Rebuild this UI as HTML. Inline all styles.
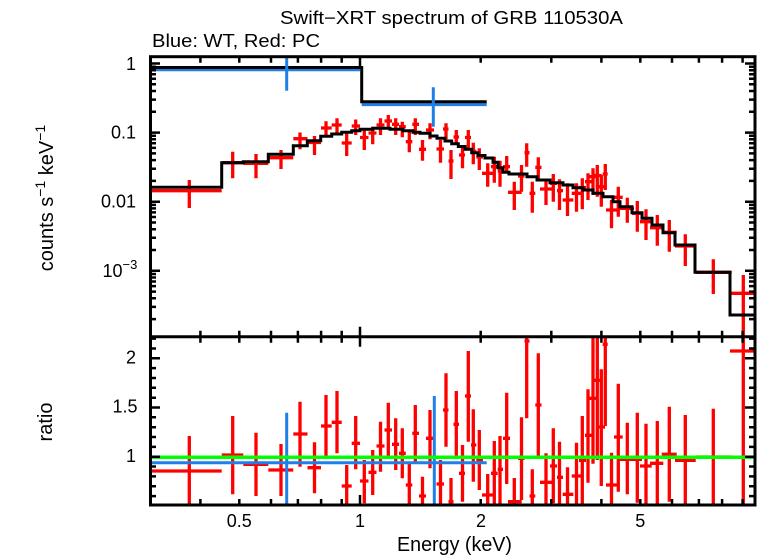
<!DOCTYPE html>
<html><head><meta charset="utf-8"><style>
html,body{margin:0;padding:0;background:#fff;}
svg{display:block;font-family:"Liberation Sans",Arial,sans-serif;}
</style></head><body>
<svg width="758" height="556" viewBox="0 0 758 556" xmlns="http://www.w3.org/2000/svg">
<rect width="758" height="556" fill="#fff"/>
<defs>
<clipPath id="ct"><rect x="150" y="56.7" width="605" height="280"/></clipPath>
<clipPath id="cb"><rect x="150" y="336.7" width="605" height="168.3"/></clipPath>
</defs>
<text x="280" y="24" font-size="18" textLength="343" lengthAdjust="spacingAndGlyphs">Swift−XRT spectrum of GRB 110530A</text>
<text x="152" y="47" font-size="18" textLength="168" lengthAdjust="spacingAndGlyphs">Blue: WT, Red: PC</text>
<g clip-path="url(#ct)" fill="none" stroke-width="3">
<path stroke="#ff0000" stroke-width="3.3" d="M150 190.7H221.7M189.3 180V208 M221.7 162.7H243.3M232.7 151.7V178.3 M243.3 163.3H268.3M256 154V178.3 M268.3 157.7H293.3M281 150V169 M293.3 138.7H307.5M300 132.5V149.3 M307.5 142.5H321M314.5 136V155 M321 128H331.7M326 121.3V135 M331.7 125H341.7M337 118.3V133 M341.7 143H351.7M346.7 131.7V156 M351.7 126H360M355.7 119.5V135 M360 137.5H368.5M364.3 128.5V150 M368.5 133H376.5M372.7 126.7V144.3 M376.5 125H384.5M380.5 118.3V135 M384.5 121H392M388.3 115V127.3 M392 124.3H399M395.7 118.3V135 M399 126.7H405.8M402.3 121.7V137.3 M405.8 141.7H412.3M409.3 131.7V152.3 M412.3 124.3H419M415.3 118.3V135 M419 149.3H426M422.5 140V160.7 M426 130H434M430 123.3V139.3 M436.5 149H444M440.5 140V162.7 M443 129H448.5M446 123.3V139.3 M448.5 161H453.5M451 150V179 M453.5 137H459M456.3 130V145 M459 155H465M462.5 145V168.3 M465 137.5H471M468.3 130V150 M471 151.3H476.3M473.3 142.7V164.3 M476.3 157H483M479.3 148.3V170 M482 173.3H493M487.7 163.3V186.7 M491 166.7H497.7M494.3 156.7V182.7 M497.7 171H503M500 160.7V186.7 M503 166.7H510M506.7 156V173.3 M508 192.3H521.7M514.3 181.7V210 M518 176H524.5M521.5 165V191.7 M524.5 152.7H529.5M526.7 143.3V166.7 M529.5 193.3H535.3M532.3 181.7V212.7 M535.3 167.3H541.5M538.3 157.3V179.3 M540 189H551.7M546 179.3V205 M550 183.3H557M553.3 174V201.7 M557 190.7H563M559.5 179.3V210 M562.7 200H573.3M567.5 183.3V216 M571.7 193.3H581.7M576.5 183.3V211.7 M579 187.5H586M582.3 178.3V209.3 M585 181.7H591.5M588 173.3V200 M588 176.7H596.7M593 168.3V195 M593.3 175.5H601.7M597.3 165V196.7 M597.3 186.7H605M601.3 175V206.7 M602.7 174H607.7M605.3 164V190 M606 210H617.3M611.5 200V228.3 M614 197.3H622.7M618.3 186.7V216.7 M620 208.3H634M627.3 197.7V222.7 M632 213.3H642M637.3 201V231.7 M640 221.7H651.7M646 209.3V240 M650 227.7H663.3M657.3 215V245.7 M661.7 232.3H676.7M669.3 220V251.7 M675 246H695.7M685.3 234.3V266 M695.7 272.3H731.7M713.3 259.3V294 M730 293.3H757M743.3 275V340"/>
<path stroke="#1e80e6" d="M150 69.8H360M361.7 104.6H486.7"/>
<path stroke="#000" d="M150 67.5H361.7V101.7H486.7"/>
<path stroke="#000" d="M150 187.3H221.7V162.7H243.3V161.7H268.3V154.3H293.3V145.7H307.3V140.7H320.7V136.3H331.7V134H341.7V132.3H351.7V130.7H360V129.3H373V128.3H390V129.3H403V130.7H413V132.3H420V133.3H430V136H437V138.3H445V141H451.7V143.8H458.3V146.5H465V149.3H471.7V152.7H478V155.5H485V158H493V162.3H498V167.7H503V172.3H509V174H527V176.7H537V180H550V182.7H563V185H573V187.7H583V190H593V193.3H603V196.7H613V201.7H620V206.7H632V212.7H642V218.3H652V225H663V232.7H675V245H695V272.3H730V315H757"/>
<path stroke="#1e80e6" d="M286.7 56V90.7M433.3 87.3V126.7"/>
</g>
<g clip-path="url(#cb)" fill="none" stroke-width="3">
<path stroke="#ff0000" stroke-width="3.3" d="M150 471H221.7M189.3 436V505 M221.7 455H243.3M232.7 416V494.3 M243.3 464.3H268.3M256 432.7V496 M268.3 470H293.3M281 444V496 M293.3 434H307.5M300 401.7V466.7 M307.5 467.7H321M314.5 442.3V493.3 M321 426H331.7M326 395V456 M331.7 422.3H341.7M337 391V453.3 M341.7 486H351.7M346.7 465V505 M351.7 443.3H360M355.7 416V469.3 M360 481H368.5M364.3 460V503.3 M368.5 472.3H376.5M372.7 450V495 M376.5 446H384.5M380.5 421.7V471.7 M384.5 430H392M388.3 402.7V456 M392 444.3H399M395.7 418.3V470 M399 453.3H405.8M402.3 428.3V478.3 M405.8 485H412.3M409.3 463.3V505 M412.3 433.3H419M415.3 405V461.7 M419 496H426M422.5 476.7V505 M426 438.3H434M430 410V468.3 M436.5 484H444M440.5 460V505 M443 410H448.5M446 373.3V446.7 M448.5 501.7H453.5M451 478V505 M453.5 424.3H459M456.3 391V456.7 M459 473.3H465M462.5 445V501.7 M465 396H471M468.3 351V441.7 M471 445H476.3M473.3 409.3V481.7 M476.3 460H483M479.3 430V490 M482 495H493M487.7 474V505 M491 473.3H497.7M494.3 441V505 M497.7 469.3H503M500 436V505 M503 438.3H510M506.7 392.7V484 M508 501.7H521.7M514.3 478V505 M518 458.3H524.5M521.5 417.3V500 M524.5 341H529.5M526.7 336V418.3 M529.5 496H535.3M532.3 469.3V505 M535.3 405H541.5M538.3 353.3V456.7 M540 482.3H551.7M546 453.3V505 M550 466H557M553.3 428.3V503.3 M557 477.3H563M559.5 441.7V505 M562.7 494.3H573.3M567.5 467.3V505 M571.7 476H581.7M576.5 442.7V505 M579 460.3H586M582.3 416V504 M585 435.3H591.5M588 389.3V482.7 M588 398.3H596.7M593 336V463.7 M593.3 380.3H601.7M597.3 336V460 M597.3 427H605M601.3 369.3V486 M602.7 344.3H607.7M605.3 336V426 M606 485H617.3M611.5 452.7V506 M614 437H622.7M618.3 383.7V491.7 M620 459.3H634M627.3 422.7V494.3 M632 459.3H642M637.3 412.7V502.7 M640 466H651.7M646 423.7V506 M650 463.3H663.3M657.3 421V506 M661.7 454.3H676.7M669.3 406.7V501.7 M675 460.3H695.7M685.3 415V506 M695.7 457H731.7M713.3 408.7V506 M730 351H757M743.3 336V506"/>
<path stroke="#1e80e6" d="M150 462.7H486.7M286.7 412.7V506M434.3 396V506"/>
<path stroke="#00ff00" stroke-width="3.5" d="M150 457.3H755"/>
</g>
<g stroke="#000" stroke-width="2.5" fill="none">
<path d="M200.4 56.7v6M239.3 56.7v6M271 56.7v6M297.9 56.7v6M321.1 56.7v6M341.7 56.7v6M480.7 56.7v6M551.3 56.7v6M601.4 56.7v6M640.3 56.7v6M672 56.7v6M698.9 56.7v6M722.1 56.7v6M742.6 56.7v6"/>
<path d="M200.4 330.7v12M239.3 330.7v12M271 330.7v12M297.9 330.7v12M321.1 330.7v12M341.7 330.7v12M480.7 330.7v12M551.3 330.7v12M601.4 330.7v12M640.3 330.7v12M672 330.7v12M698.9 330.7v12M722.1 330.7v12M742.6 330.7v12"/>
<path d="M200.4 505v-6M239.3 505v-6M271 505v-6M297.9 505v-6M321.1 505v-6M341.7 505v-6M480.7 505v-6M551.3 505v-6M601.4 505v-6M640.3 505v-6M672 505v-6M698.9 505v-6M722.1 505v-6M742.6 505v-6"/>
<path d="M360 56.7v10M360 326.7v20M360 505v-10"/>
<path d="M150 63.5h10M150 132.6h10M150 201.7h10M150 270.8h10"/>
<path d="M150 111.8h6M150 99.6h6M150 91h6M150 84.3h6M150 78.8h6M150 74.2h6M150 70.2h6M150 66.7h6 M150 180.9h6M150 168.7h6M150 160.1h6M150 153.4h6M150 147.9h6M150 143.3h6M150 139.3h6M150 135.8h6 M150 250h6M150 237.8h6M150 229.2h6M150 222.5h6M150 217h6M150 212.4h6M150 208.4h6M150 204.9h6 M150 319.1h6M150 306.9h6M150 298.3h6M150 291.6h6M150 286.1h6M150 281.5h6M150 277.5h6M150 274h6"/>
<path d="M755 63.5h-10M755 132.6h-10M755 201.7h-10M755 270.8h-10"/>
<path d="M755 111.8h-6M755 99.6h-6M755 91h-6M755 84.3h-6M755 78.8h-6M755 74.2h-6M755 70.2h-6M755 66.7h-6 M755 180.9h-6M755 168.7h-6M755 160.1h-6M755 153.4h-6M755 147.9h-6M755 143.3h-6M755 139.3h-6M755 135.8h-6 M755 250h-6M755 237.8h-6M755 229.2h-6M755 222.5h-6M755 217h-6M755 212.4h-6M755 208.4h-6M755 204.9h-6 M755 319.1h-6M755 306.9h-6M755 298.3h-6M755 291.6h-6M755 286.1h-6M755 281.5h-6M755 277.5h-6M755 274h-6"/>
<path d="M150 358.3h10M150 407.5h10M150 456.7h10M755 358.3h-10M755 407.5h-10M755 456.7h-10"/>
<path d="M150 496.1h6M150 486.2h6M150 476.4h6M150 466.5h6M150 446.9h6M150 437h6M150 427.2h6M150 417.3h6M150 397.7h6M150 387.8h6M150 378h6M150 368.1h6M150 348.5h6M150 338.6h6 M755 496.1h-6M755 486.2h-6M755 476.4h-6M755 466.5h-6M755 446.9h-6M755 437h-6M755 427.2h-6M755 417.3h-6M755 397.7h-6M755 387.8h-6M755 378h-6M755 368.1h-6M755 348.5h-6M755 338.6h-6"/>
</g>
<g stroke="#000" stroke-width="3" fill="none">
<rect x="150.5" y="56.7" width="604.5" height="448.3"/>
<path d="M150 336.7H755"/>
</g>
<g font-size="18" fill="#000">
<text x="136" y="70" text-anchor="end">1</text>
<text x="136" y="138.5" text-anchor="end">0.1</text>
<text x="136" y="207.5" text-anchor="end">0.01</text>
<text x="122.5" y="277" text-anchor="end">10</text>
<text x="122.5" y="269" font-size="13">−3</text>
<text x="136" y="363.5" text-anchor="end">2</text>
<text x="137.5" y="412.7" text-anchor="end">1.5</text>
<text x="136" y="462" text-anchor="end">1</text>
<text x="239.3" y="527" text-anchor="middle">0.5</text>
<text x="360" y="527" text-anchor="middle">1</text>
<text x="481" y="527" text-anchor="middle">2</text>
<text x="640.3" y="527" text-anchor="middle">5</text>
</g>
<text x="397" y="551" font-size="20" textLength="115" lengthAdjust="spacingAndGlyphs">Energy (keV)</text>
<text transform="translate(53,198) rotate(-90)" text-anchor="middle" font-size="20">counts s<tspan font-size="14" dy="-8">−1</tspan><tspan dy="8"> keV</tspan><tspan font-size="14" dy="-8">−1</tspan></text>
<text transform="translate(52,422) rotate(-90)" text-anchor="middle" font-size="20">ratio</text>
</svg>
</body></html>
